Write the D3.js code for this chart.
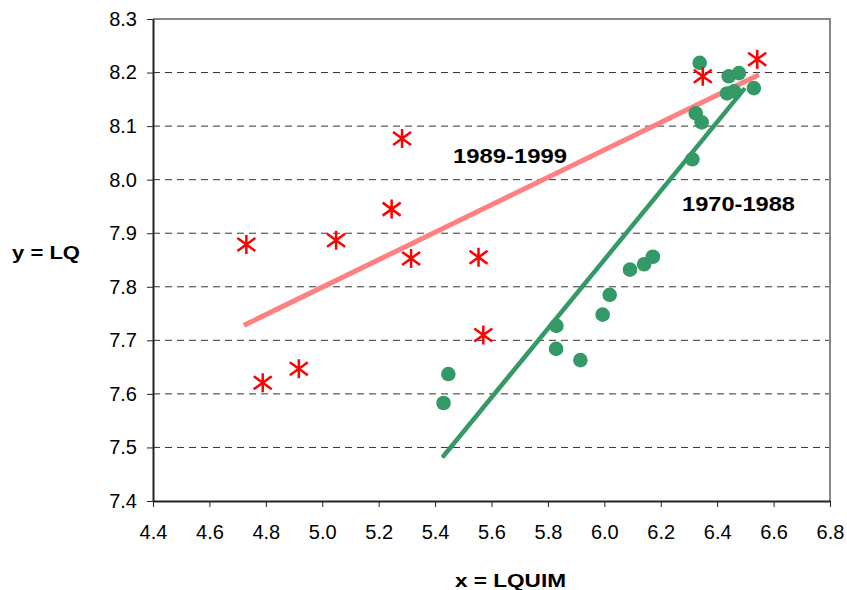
<!DOCTYPE html>
<html>
<head>
<meta charset="utf-8">
<script src="https://cdn.jsdelivr.net/npm/d3@7"></script>
<style>
  body { margin: 0; background: #fff; }
  text { font-family: "Liberation Sans", Arial, sans-serif; }
</style>
</head>
<body>
<div id="chart"></div>
<script>
// 1970-1988 (green dots)
var earlyX = [5.430, 5.447, 5.829, 5.830, 5.915, 5.994, 6.019, 6.091, 6.141, 6.172,
              6.312, 6.324, 6.345, 6.338, 6.441, 6.477, 6.435, 6.460, 6.530];
var earlyY = [7.583, 7.637, 7.684, 7.727, 7.663, 7.748, 7.785, 7.832, 7.842, 7.856,
              8.038, 8.124, 8.107, 8.218, 8.193, 8.199, 8.161, 8.165, 8.171];
// 1989-1999 (red stars)
var lateX = [4.731, 4.789, 4.917, 5.049, 5.246, 5.283, 5.315, 5.554, 5.571, 6.349, 6.542];
var lateY = [7.879, 7.621, 7.647, 7.887, 7.945, 8.077, 7.853, 7.855, 7.710, 8.193, 8.225];

// trend lines, endpoints
var earlyTrend = [[5.430, 7.484], [6.494, 8.168]];
var lateTrend = [[4.722, 7.728], [6.548, 8.196]];

var xTicks = [4.4, 4.6, 4.8, 5.0, 5.2, 5.4, 5.6, 5.8, 6.0, 6.2, 6.4, 6.6, 6.8];
var yTicks = [7.4, 7.5, 7.6, 7.7, 7.8, 7.9, 8.0, 8.1, 8.2, 8.3];

var svgWidth = 847;
var svgHeight = 590;
var margin = { top: 19, right: 17, bottom: 89, left: 153 };
var width = svgWidth - margin.left - margin.right;
var height = svgHeight - margin.top - margin.bottom;

var svg = d3.select("#chart").append("svg")
  .attr("width", svgWidth)
  .attr("height", svgHeight);

var g = svg.append("g")
  .attr("transform", `translate(${margin.left}, ${margin.top})`);

var x = d3.scaleLinear().domain([4.4, 6.8]).range([0, width]);
var y = d3.scaleLinear().domain([7.4, 8.3]).range([height, 0]);

// gridlines
g.selectAll(".grid").data(yTicks.slice(1, -1)).enter()
  .append("line")
  .attr("x1", 0).attr("x2", width)
  .attr("y1", d => y(d)).attr("y2", d => y(d))
  .attr("stroke", "#333").attr("stroke-width", 1)
  .attr("stroke-dasharray", "7,5");

// top and right border
g.append("path")
  .attr("d", `M0,${y(8.3)}H${width}V${height}`)
  .attr("fill", "none").attr("stroke", "#888").attr("stroke-width", 2);

// axes
var xAxis = d3.axisBottom(x).tickValues(xTicks).tickFormat(d3.format(".1f"))
  .tickSizeInner(6).tickSizeOuter(0).tickPadding(6);
var yAxis = d3.axisLeft(y).tickValues(yTicks).tickFormat(d3.format(".1f"))
  .tickSizeInner(6).tickSizeOuter(0).tickPadding(10);

var gx = g.append("g").attr("transform", `translate(0, ${height})`).call(xAxis);
var gy = g.append("g").call(yAxis);
[gx, gy].forEach(function(a) {
  a.select(".domain").attr("stroke", "#222").attr("stroke-width", 2);
  a.selectAll(".tick line").attr("stroke", "#222");
  a.selectAll("text").attr("font-size", 20).attr("fill", "#000")
    .style("font-family", "Liberation Sans, Arial, sans-serif");
});
gx.selectAll("text").attr("dy", "1.28em");

// trend lines
var line = d3.line().x(d => x(d[0])).y(d => y(d[1]));
g.append("path").datum(lateTrend).attr("d", line)
  .attr("stroke", "#ff8080").attr("stroke-width", 5).attr("fill", "none");
g.append("path").datum(earlyTrend).attr("d", line)
  .attr("stroke", "#339966").attr("stroke-width", 4.5).attr("fill", "none")
  .attr("stroke-linecap", "round");

// green dots
g.selectAll(".dot").data(earlyX).enter()
  .append("circle")
  .attr("cx", d => x(d))
  .attr("cy", (d, i) => y(earlyY[i]))
  .attr("r", 7.3)
  .attr("fill", "#339966");

// red stars
var star = "M0,-9.5V9.5M-9,-6.5L9,6.5M-9,6.5L9,-6.5";
g.selectAll(".star").data(lateX).enter()
  .append("path")
  .attr("transform", (d, i) => `translate(${x(d)}, ${y(lateY[i])})`)
  .attr("d", star)
  .attr("stroke", "#ff0000").attr("stroke-width", 2.5).attr("fill", "none");

// labels
svg.append("text").attr("x", 453).attr("y", 163)
  .attr("font-size", 21).attr("font-weight", "bold")
  .attr("textLength", 114).attr("lengthAdjust", "spacingAndGlyphs")
  .text("1989-1999");
svg.append("text").attr("x", 682).attr("y", 211)
  .attr("font-size", 21).attr("font-weight", "bold")
  .attr("textLength", 113).attr("lengthAdjust", "spacingAndGlyphs")
  .text("1970-1988");

svg.append("text").attr("x", 12).attr("y", 259)
  .attr("font-size", 18).attr("font-weight", "bold")
  .attr("textLength", 68).attr("lengthAdjust", "spacingAndGlyphs")
  .text("y = LQ");
svg.append("text").attr("x", 455).attr("y", 587)
  .attr("font-size", 19).attr("font-weight", "bold")
  .attr("textLength", 111).attr("lengthAdjust", "spacingAndGlyphs")
  .text("x = LQUIM");
</script>
</body>
</html>
